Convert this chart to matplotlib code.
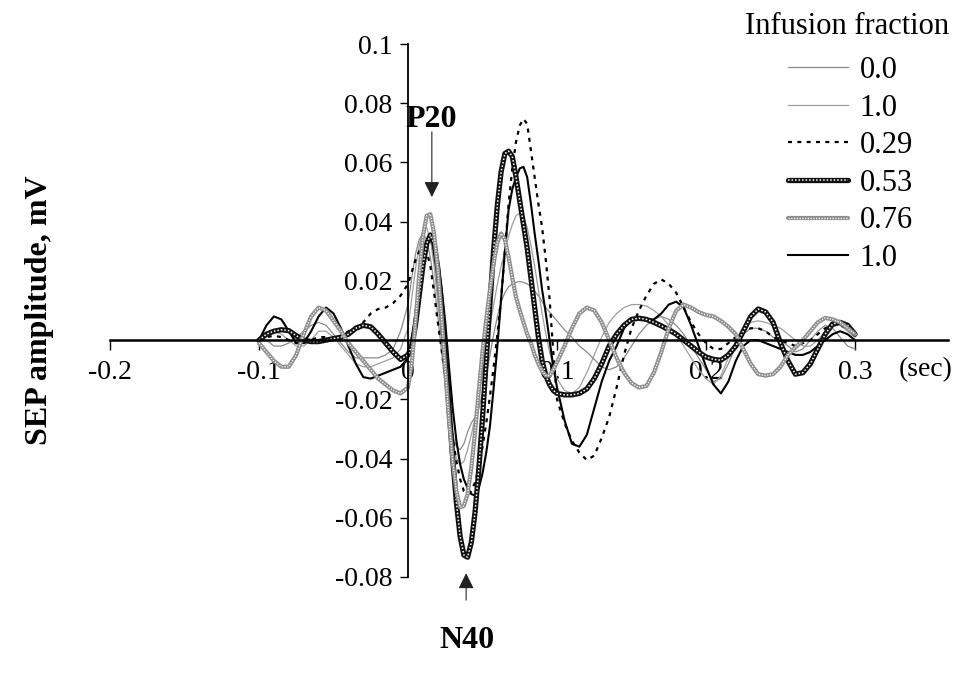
import numpy as np
import matplotlib
matplotlib.use("Agg")
import matplotlib.pyplot as plt

plt.rcParams['font.family'] = ['Liberation Serif', 'DejaVu Serif']
plt.rcParams['axes.unicode_minus'] = False

# sample times (sec)
t = np.round(np.concatenate([np.arange(-0.1, -0.0001, 0.005),
                             np.arange(0.0, 0.0999, 0.0025),
                             np.arange(0.1, 0.30001, 0.005)]), 4)

# SEP amplitude (mV) for each infusion fraction
sep_00 = ([0.0, 0.0, -0.002, -0.002, -0.001, 0.001, 0.003, 0.005, 0.006, 0.005,
           0.002, -0.001, -0.004, -0.006, -0.006, -0.006, -0.006, -0.005, -0.003, 0.003] +
          [0.012, 0.021, 0.029, 0.034, 0.036, 0.034, 0.028, 0.019, 0.008, -0.004,
           -0.015, -0.025, -0.032, -0.036, -0.037, -0.035, -0.031, -0.028, -0.026, -0.023,
           -0.018, -0.012, -0.005, 0.002, 0.008, 0.013, 0.016, 0.018, 0.019, 0.0195,
           0.0198, 0.0195, 0.019, 0.018, 0.0165, 0.015, 0.013, 0.011, 0.0095, 0.008] +
          [0.0065, 0.0035, 0.001, -0.002, -0.004, -0.0065, -0.009, -0.010, -0.009, -0.006,
           -0.002, 0.002, 0.005, 0.007, 0.008, 0.007, 0.005, 0.002, -0.002, -0.006,
           -0.010, -0.014, -0.013, -0.008, -0.002, 0.002, 0.004, 0.004, 0.003, 0.001,
           0.0, -0.002, -0.004, -0.003, 0.0, 0.003, 0.005, 0.004, 0.001, -0.002, -0.003])

sep_10a = ([0.0, 0.002, 0.003, 0.002, 0.0, -0.002, -0.002, 0.0, 0.003, 0.003,
            0.001, -0.002, -0.005, -0.008, -0.009, -0.009, -0.008, -0.007, -0.006, -0.003] +
           [0.004, 0.014, 0.024, 0.032, 0.037, 0.038, 0.034, 0.025, 0.013, 0.0,
            -0.013, -0.025, -0.034, -0.040, -0.042, -0.041, -0.037, -0.032, -0.026, -0.019,
            -0.011, -0.003, 0.005, 0.012, 0.019, 0.025, 0.030, 0.035, 0.039, 0.042,
            0.043, 0.042, 0.038, 0.032, 0.025, 0.017, 0.009, 0.002, -0.004, -0.009] +
           [-0.013, -0.017, -0.018, -0.016, -0.011, -0.005, 0.001, 0.006, 0.009, 0.011,
            0.012, 0.012, 0.0115, 0.010, 0.008, 0.005, 0.002, -0.002, -0.006, -0.010,
            -0.013, -0.015, -0.012, -0.006, 0.0, 0.004, 0.006, 0.0065, 0.006, 0.005,
            0.004, 0.002, 0.0, -0.002, -0.002, 0.0, 0.003, 0.005, 0.005, 0.003, 0.001])

sep_029 = ([0.0, 0.001, 0.0015, 0.001, 0.0, -0.001, -0.001, 0.0, 0.001, 0.001,
            0.0, 0.001, 0.003, 0.0045, 0.006, 0.009, 0.0105, 0.011, 0.0125, 0.015] +
           [0.019, 0.023, 0.027, 0.030, 0.031, 0.030, 0.025, 0.016, 0.006, -0.003,
            -0.013, -0.023, -0.033, -0.041, -0.047, -0.051, -0.052, -0.051, -0.048, -0.043,
            -0.036, -0.028, -0.019, -0.009, 0.002, 0.014, 0.030, 0.046, 0.058, 0.067,
            0.0725, 0.0747, 0.073, 0.064, 0.055, 0.046, 0.038, 0.027, 0.014, -0.004] +
           [-0.020, -0.028, -0.034, -0.038, -0.0405, -0.039, -0.033, -0.026, -0.016, -0.005,
            0.004, 0.010, 0.015, 0.019, 0.0205, 0.019, 0.016, 0.011, 0.006, 0.002,
            -0.001, -0.003, -0.003, -0.001, 0.001, 0.003, 0.004, 0.004, 0.003, 0.001,
            0.0, -0.001, -0.002, -0.001, 0.0, 0.002, 0.004, 0.005, 0.005, 0.004, 0.002])

sep_053 = ([0.0, 0.002, 0.003, 0.0035, 0.0032, 0.0015, 0.0, -0.0005, -0.0005, 0.0,
            0.0005, 0.001, 0.002, 0.004, 0.005, 0.0045, 0.002, -0.001, -0.004, -0.0065] +
           [-0.005, -0.002, 0.005, 0.015, 0.025, 0.0325, 0.0355, 0.0326, 0.0242, 0.0113,
            -0.005, -0.0227, -0.040, -0.055, -0.0664, -0.0726, -0.0733, -0.0683, -0.0581, -0.0437,
            -0.0262, -0.0068, 0.0126, 0.0307, 0.0458, 0.0569, 0.063, 0.0638, 0.062, 0.055,
            0.047, 0.039, 0.031, 0.021, 0.011, 0.001, -0.007, -0.012, -0.015, -0.017] +
           [-0.018, -0.0185, -0.0185, -0.018, -0.0165, -0.013, -0.008, -0.002, 0.002, 0.005,
            0.007, 0.0074, 0.007, 0.006, 0.0048, 0.0035, 0.002, 0.0, -0.002, -0.004,
            -0.0057, -0.0065, -0.0068, -0.005, -0.002, 0.003, 0.008, 0.0105, 0.0095, 0.006,
            -0.001, -0.007, -0.0115, -0.011, -0.008, -0.003, 0.002, 0.0055, 0.006, 0.005, 0.002])

sep_076 = ([-0.001, -0.004, -0.007, -0.009, -0.009, -0.005, 0.002, 0.008, 0.011, 0.010,
            0.0065, 0.003, -0.001, -0.004, -0.007, -0.010, -0.013, -0.015, -0.017, -0.018] +
           [-0.016, -0.008, 0.006, 0.022, 0.035, 0.042, 0.0425, 0.036, 0.024, 0.008,
            -0.010, -0.027, -0.041, -0.051, -0.0565, -0.056, -0.052, -0.043, -0.031, -0.017,
            -0.004, 0.007, 0.017, 0.026, 0.033, 0.036, 0.034, 0.028, 0.021, 0.0145,
            0.010, 0.006, 0.002, -0.001, -0.005, -0.008, -0.0105, -0.012, -0.012, -0.010] +
           [-0.0075, -0.002, 0.004, 0.009, 0.011, 0.010, 0.006, 0.0, -0.006, -0.011,
            -0.0145, -0.016, -0.0155, -0.011, -0.004, 0.004, 0.010, 0.012, 0.011, 0.0095,
            0.0085, 0.008, 0.0065, 0.0045, 0.002, -0.003, -0.008, -0.0115, -0.012, -0.0115,
            -0.009, -0.005, -0.0025, 0.0, 0.003, 0.006, 0.0075, 0.007, 0.006, 0.004, 0.002])

sep_10b = ([0.0, 0.005, 0.008, 0.007, 0.003, -0.001, -0.001, 0.003, 0.008, 0.011,
            0.009, 0.004, -0.002, -0.008, -0.0125, -0.013, -0.012, -0.011, -0.010, -0.009] +
           [-0.006, 0.0, 0.009, 0.019, 0.028, 0.0335, 0.035, 0.033, 0.027, 0.018,
            0.006, -0.009, -0.023, -0.034, -0.042, -0.047, -0.050, -0.052, -0.0525, -0.050,
            -0.045, -0.038, -0.029, -0.016, -0.002, 0.014, 0.030, 0.044, 0.051, 0.055,
            0.058, 0.0585, 0.055, 0.046, 0.036, 0.027, 0.017, 0.009, 0.0, -0.009] +
           [-0.016, -0.027, -0.035, -0.036, -0.032, -0.023, -0.014, -0.007, -0.002, 0.004,
            0.007, 0.0075, 0.007, 0.007, 0.009, 0.012, 0.013, 0.011, 0.005, -0.002,
            -0.009, -0.015, -0.018, -0.014, -0.007, -0.002, 0.0, 0.0, -0.001, -0.002,
            -0.003, -0.004, -0.005, -0.005, -0.004, -0.002, 0.0, 0.002, 0.003, 0.002, 0.0])

legend_labels = ['0.0', '1.0', '0.29', '0.53', '0.76', '1.0']
x_ticks = [-0.2, -0.1, 0.0, 0.1, 0.2, 0.3]
x_ticklabels = ['-0.2', '-0.1', '0', '0.1', '0.2', '0.3']
y_ticks = [-0.08, -0.06, -0.04, -0.02, 0.02, 0.04, 0.06, 0.08, 0.1]
y_ticklabels = ['-0.08', '-0.06', '-0.04', '-0.02', '0.02', '0.04', '0.06', '0.08', '0.1']

fig = plt.figure(figsize=(9.58, 6.76), dpi=100)
ax = fig.add_axes([110 / 958, 99 / 676, 838 / 958, 533 / 676])
ax.set_xlim(-0.2, 0.3624)
ax.set_ylim(-0.08, 0.1)

h00, = ax.plot(t, sep_00, color='#8a8a8a', lw=0.9)
h10a, = ax.plot(t, sep_10a, color='#9e9e9e', lw=0.9)
h029, = ax.plot(t, sep_029, color='black', lw=1.6, ls=(0, (1.8, 2.4)))
h10b, = ax.plot(t, sep_10b, color='black', lw=1.5)
h053a, = ax.plot(t, sep_053, color='#111111', lw=3.8, solid_capstyle='round')
h053b, = ax.plot(t, sep_053, color='white', lw=1.1, ls=(0, (1, 1.3)))
h076a, = ax.plot(t, sep_076, color='#8f8f8f', lw=3.0, solid_capstyle='round')
h076b, = ax.plot(t, sep_076, color='white', lw=0.9, ls=(0, (1, 1.2)))

for s in ['top', 'right']:
    ax.spines[s].set_visible(False)
ax.spines['left'].set_position(('data', 0))
ax.spines['bottom'].set_position(('data', 0))
ax.spines['bottom'].set_linewidth(1.8)
ax.spines['left'].set_linewidth(1.3)

ax.set_xticks(x_ticks)
ax.set_xticklabels(x_ticklabels)
ax.set_yticks(y_ticks)
ax.set_yticklabels(y_ticklabels)
ax.tick_params(axis='x', direction='out', length=7, width=1, pad=7, labelsize=20)
ax.tick_params(axis='y', direction='out', length=6, width=1, pad=5, labelsize=20)

# P20 / N40 markers
ax.annotate('', xy=(0.016, 0.0483), xytext=(0.016, 0.0703),
            arrowprops=dict(arrowstyle='-|>,head_length=0.95,head_width=0.47',
                            mutation_scale=10, color='#222222', lw=0.8,
                            shrinkA=0, shrinkB=0), annotation_clip=False)
ax.text(0.0155, 0.0745, 'P20', fontsize=23, fontweight='bold', ha='center', va='center')
ax.annotate('', xy=(0.039, -0.0787), xytext=(0.039, -0.0878),
            arrowprops=dict(arrowstyle='-|>,head_length=0.95,head_width=0.47',
                            mutation_scale=10, color='#222222', lw=0.8,
                            shrinkA=0, shrinkB=0), annotation_clip=False)
ax.text(0.0396, -0.1014, 'N40', fontsize=23, fontweight='bold', ha='center', va='center',
        clip_on=False)

fig.text(926 / 958, 1 - 370 / 676, '(sec)', fontsize=20, ha='center', va='center')
fig.text(40 / 958, 1 - 310 / 676, 'SEP amplitude, mV', rotation=90, fontsize=23,
         fontweight='bold', ha='center', va='center')
fig.text(847 / 958, 1 - 27 / 676, 'Infusion fraction', fontsize=22, ha='center', va='center')

handles = [h00, h10a, h029, (h053a, h053b), (h076a, h076b), h10b]
fig.legend(handles, legend_labels, loc='upper left', bbox_to_anchor=(788 / 958, 1 - 56 / 676),
           frameon=False, fontsize=22, handlelength=1.96, handletextpad=0.39,
           labelspacing=0.28, borderpad=0, borderaxespad=0)

fig.savefig('out.png', dpi=100)
